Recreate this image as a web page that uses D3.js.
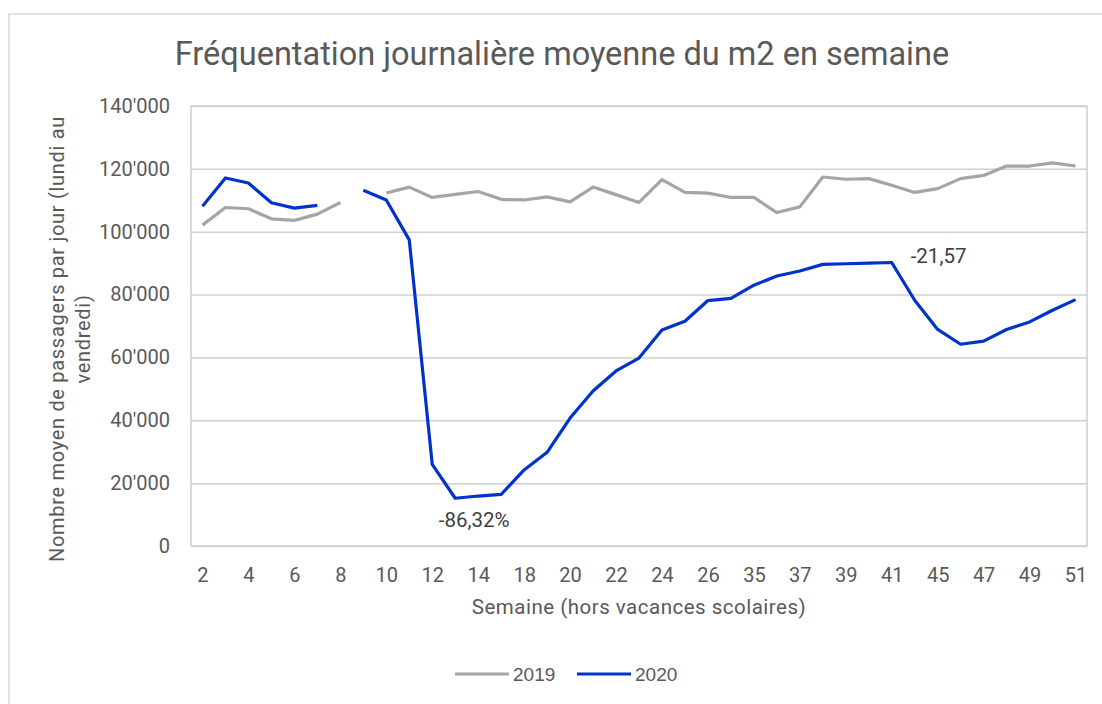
<!DOCTYPE html>
<html>
<head>
<meta charset="utf-8">
<script src="https://cdn.jsdelivr.net/npm/d3@7"></script>
<style>
  body { margin: 0; background: #fff; }
  svg { display: block; }
</style>
</head>
<body>
<svg id="chart"></svg>
<script>
// semaines (hors vacances scolaires) - les labels caches sont devines
var weeks = ["2","3","4","5","6","7","8","9","10","11","12","13","14","16","18","19","20","21","22","23","24","25","26","27","35","36","37","38","39","40","41","42","45","46","47","48","49","50","51"];

var v2019 = [102100, 107700, 107300, 104100, 103600, 105600, 109300, null, 112300, 114200, 110900, 111900, 112800, 110300, 110100, 111100, 109500, 114200, 111800, 109300, 116600, 112500, 112300, 110900, 110900, 106100, 107900, 117400, 116700, 116900, 114800, 112500, 113700, 116900, 117900, 120900, 120900, 121900, 120900];

var v2020 = [108100, 117100, 115500, 109200, 107500, 108400, null, 113200, 110100, 97400, 26000, 15200, 15900, 16400, 24200, 29800, 40700, 49300, 55700, 59800, 68700, 71500, 78100, 78800, 83000, 85900, 87500, 89600, 89800, 90000, 90200, 78200, 68900, 64200, 65200, 68900, 71300, 75000, 78400];

var yTicks = [0, 20000, 40000, 60000, 80000, 100000, 120000, 140000];

var seriesNames = ["2019", "2020"];
var seriesColors = ["#A5A5A5", "#0033CC"];

var annotLabels = ["-86,32%", "-21,57"];
var annotWeeks = ["14", "42"];

var width = 1102;
var height = 704;
var plot = {"left": 191, "right": 1087, "top": 106, "bottom": 546};
var font = "Roboto, sans-serif";

var svg = d3.select("svg#chart")
    .attr("width", width)
    .attr("height", height);

// cadre exterieur (coupe a droite et en bas)
svg.append("rect")
    .attr("x", 9).attr("y", 14)
    .attr("width", 1110).attr("height", 720)
    .attr("fill", "#fff")
    .attr("stroke", "#D9D9D9")
    .attr("stroke-width", 1.5);

var x = d3.scalePoint()
    .domain(weeks)
    .range([plot.left, plot.right])
    .padding(0.5);

var y = d3.scaleLinear()
    .domain([0, 140000])
    .range([plot.bottom, plot.top]);

var fmt = d3.formatLocale({"decimal": ".", "thousands": "'", "grouping": [3], "currency": ["", ""]}).format(",");

// grille horizontale
svg.append("g")
    .attr("transform", "translate(" + plot.left + ",0)")
    .call(d3.axisLeft(y).tickValues(yTicks).tickSize(-(plot.right - plot.left)).tickFormat(fmt).tickPadding(21))
    .call(function(g) {
        g.select(".domain").remove();
        g.selectAll(".tick line").attr("stroke", "#D0D0D0").attr("stroke-width", 1.5);
        g.selectAll(".tick text")
            .attr("fill", "#595959")
            .style("font-family", font)
            .style("font-size", "20px");
    });

// bord du graphique
svg.append("rect")
    .attr("x", plot.left).attr("y", plot.top)
    .attr("width", plot.right - plot.left).attr("height", plot.bottom - plot.top)
    .attr("fill", "none")
    .attr("stroke", "#D0D0D0")
    .attr("stroke-width", 1.5);

// axe x
svg.append("g")
    .attr("transform", "translate(0," + plot.bottom + ")")
    .call(d3.axisBottom(x).tickSize(0).tickPadding(22)
        .tickFormat(function(d, i) { return i % 2 === 0 ? d : ""; }))
    .call(function(g) {
        g.select(".domain").remove();
        g.selectAll(".tick text")
            .attr("fill", "#595959")
            .style("font-family", font)
            .style("font-size", "20px");
    });

var series = [v2019, v2020];

var line = d3.line()
    .defined(function(d) { return d != null; })
    .x(function(d, i) { return x(weeks[i]); })
    .y(function(d) { return y(d); });

series.forEach(function(s, k) {
    svg.append("path")
        .datum(s)
        .attr("fill", "none")
        .attr("stroke", seriesColors[k])
        .attr("stroke-width", 3.2)
        .attr("stroke-linejoin", "round")
        .attr("d", line);
});

// annotations
var i1 = weeks.indexOf(annotWeeks[0]);
svg.append("text")
    .attr("x", x(annotWeeks[0]) - 4)
    .attr("y", y(v2020[i1]) + 31)
    .attr("text-anchor", "middle")
    .attr("fill", "#404040")
    .style("font-family", font)
    .style("font-size", "20.5px")
    .text(annotLabels[0]);

var i2 = weeks.indexOf(annotWeeks[1]);
svg.append("text")
    .attr("x", x(annotWeeks[1]) - 4)
    .attr("y", y(v2020[i2 - 1]))
    .attr("fill", "#404040")
    .style("font-family", font)
    .style("font-size", "20.5px")
    .text(annotLabels[1]);

// titre
svg.append("text")
    .attr("x", 562)
    .attr("y", 65)
    .attr("text-anchor", "middle")
    .attr("fill", "#595959")
    .style("font-family", font)
    .style("font-size", "32.5px")
    .text("Fréquentation journalière moyenne du m2 en semaine");

// titres des axes
svg.append("text")
    .attr("x", (plot.left + plot.right) / 2)
    .attr("y", 614)
    .attr("text-anchor", "middle")
    .attr("fill", "#595959")
    .style("font-family", font)
    .style("font-size", "20.5px")
    .style("letter-spacing", "0.5px")
    .text("Semaine (hors vacances scolaires)");

var ytitle = svg.append("text")
    .attr("transform", "translate(64,339) rotate(-90)")
    .attr("text-anchor", "middle")
    .attr("fill", "#595959")
    .style("font-family", font)
    .style("font-size", "20px")
    .style("letter-spacing", "0.7px");
ytitle.append("tspan").attr("x", 0).attr("y", 0).text("Nombre moyen de passagers par jour (lundi au");
ytitle.append("tspan").attr("x", 0).attr("y", 26).text("vendredi)");

// legende
var legX = [455, 577];
seriesNames.forEach(function(n, k) {
    svg.append("line")
        .attr("x1", legX[k]).attr("x2", legX[k] + 54)
        .attr("y1", 674).attr("y2", 674)
        .attr("stroke", seriesColors[k])
        .attr("stroke-width", 3.2);
    svg.append("text")
        .attr("x", legX[k] + 58)
        .attr("y", 681)
        .attr("fill", "#595959")
        .style("font-family", "'Liberation Sans', Arial, sans-serif")
        .style("font-size", "19px")
        .text(n);
});
</script>
</body>
</html>
